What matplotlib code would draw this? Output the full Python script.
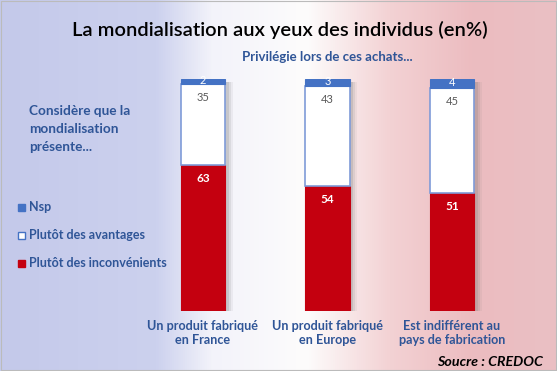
import matplotlib
matplotlib.use("Agg")
import matplotlib.pyplot as plt
import numpy as np
from matplotlib.colors import LinearSegmentedColormap
from matplotlib.patches import Rectangle

plt.rcParams['font.family'] = ['Lato', 'DejaVu Sans']

categories = ["Un produit fabriqué\nen France", "Un produit fabriqué\nen Europe",
              "Est indifférent au\npays de fabrication"]
inconvenients = [63, 54, 51]
avantages = [35, 43, 45]
nsp = [2, 3, 4]
series_names = ["Nsp", "Plutôt des avantages", "Plutôt des inconvénients"]

W, H = 557, 371
fig = plt.figure(figsize=(W / 100, H / 100), dpi=100)

# background gradient (French flag, faded)
bg = fig.add_axes([0, 0, 1, 1])
cmap = LinearSegmentedColormap.from_list(
    "flag", [(0.0, "#c4c9ea"), (0.28, "#ccd1ee"), (0.38, "#f3f3fa"), (0.55, "#fdfcfc"),
             (0.70, "#f3d2d4"), (0.85, "#ecbcc0"), (1.0, "#eac0c4")])
grad = np.linspace(0, 1, 512).reshape(1, -1)
bg.imshow(grad, aspect='auto', cmap=cmap, extent=[0, 1, 0, 1])
bg.set_xlim(0, 1); bg.set_ylim(0, 1)
bg.axis('off')
bg.add_patch(Rectangle((0.001, 0.002), 0.997, 0.995, fill=False, ec="#bbbbbb", lw=0.8,
                       transform=bg.transAxes))

# main axes in pixel placement
x0, x1, ytop, ybot = 140, 510, 79, 311
ax = fig.add_axes([x0 / W, 1 - ybot / H, (x1 - x0) / W, (ybot - ytop) / H])
ax.patch.set_alpha(0)
xpos = np.arange(len(categories))
ax.set_xlim((x0 - 203) / 124.5, (x1 - 203) / 124.5)
ax.set_ylim(0, 100)
ax.axis('off')

width = 0.355
red = "#c4000f"
blue = "#4472c4"
edge = "#7f9bd8"
# soft shadows
for k, (dx, a) in enumerate([(0.06, 0.08), (0.045, 0.12), (0.03, 0.18)]):
    ax.bar(xpos + dx, 100, width, bottom=-1.5, color="#707070", alpha=a, lw=0, zorder=1)
ax.bar(xpos, inconvenients, width, color=red, edgecolor=red, lw=0.8, zorder=2)
ax.bar(xpos, avantages, width, bottom=inconvenients, color="white",
       edgecolor=edge, lw=1.2, zorder=2)
bot3 = [a + b for a, b in zip(inconvenients, avantages)]
ax.bar(xpos, nsp, width, bottom=bot3, color=blue, edgecolor=blue, lw=0.8, zorder=2)

for i in range(len(xpos)):
    ax.text(xpos[i], inconvenients[i] - 3.5, str(inconvenients[i]), ha='center', va='top',
            color='white', fontsize=8.5, fontweight='bold', zorder=3)
    ax.text(xpos[i], bot3[i] - 3.5, str(avantages[i]), ha='center', va='top',
            color='#595959', fontsize=8, zorder=3)
    ax.text(xpos[i], bot3[i] + nsp[i] / 2 + 0.3, str(nsp[i]), ha='center', va='center',
            color='white', fontsize=8, zorder=3)

# category labels
navy = "#2f5597"
xl = ax.get_xlim()
for i, c in enumerate(categories):
    xp = x0 / W + (xpos[i] - xl[0]) / (xl[1] - xl[0]) * (x1 - x0) / W
    fig.text(xp, 1 - 320 / H, c, ha='center', va='top', color=navy, fontsize=9.1,
             fontweight='bold', linespacing=1.25)

fig.text(280 / W, 1 - 30 / H, "La mondialisation aux yeux des individus (en%)",
         ha='center', va='center', fontsize=14.5, color='black', fontweight='semibold')
fig.text(327 / W, 1 - 57 / H, "Privilégie lors de ces achats...", ha='center', va='center',
         fontsize=9.5, color=navy, fontweight='bold')
fig.text(29 / W, 1 - 105 / H, "Considère que la\nmondialisation\nprésente...", ha='left',
         va='top', fontsize=9.8, color=navy, fontweight='bold', linespacing=1.6)

leg_y = [207, 235, 263]
leg_fc = [blue, "white", red]
leg_ec = [blue, blue, red]
for name, y, fc, ec in zip(series_names, leg_y, leg_fc, leg_ec):
    bg.add_patch(Rectangle((18 / W, 1 - (y + 4) / H), 7 / W, 7 / H, fc=fc, ec=ec, lw=1,
                           transform=bg.transAxes, zorder=3))
    fig.text(29 / W, 1 - y / H, name, ha='left', va='center', fontsize=9.0, color=navy,
             fontweight='bold')

fig.text(543 / W, 1 - 362 / H, "Soucre : CREDOC", ha='right', va='center', fontsize=10.3,
         color='black', fontweight='bold', fontstyle='italic')

fig.savefig("out.png", dpi=100)
